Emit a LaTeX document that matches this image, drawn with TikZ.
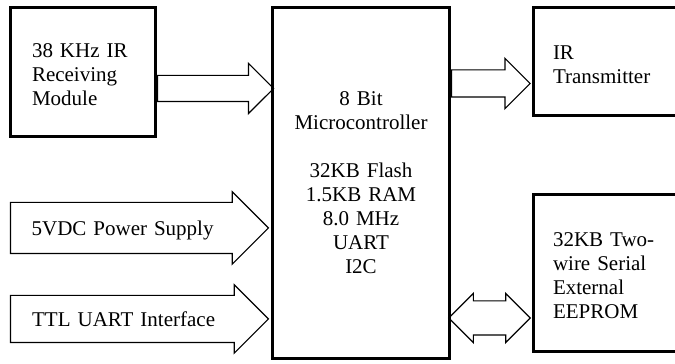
\documentclass[tikz,border=0pt]{standalone}
\usepackage{fontspec}
\setmainfont{Liberation Serif}
\usetikzlibrary{shapes.arrows}
\newcommand\padtop{\rule{0pt}{20pt}}
\begin{document}
\begin{tikzpicture}[
      x=1pt, y=1pt,
      unit/.style={
        rectangle, draw, line width=3.2pt, align=left,
        font=\fontsize{21}{24}\selectfont
      },
      core/.style={
        unit, align=center, text width=170pt
      },
      sidebox/.style={
        unit, minimum width=156.4pt, inner xsep=19.4pt, text width=117.6pt
      },
      pipe/.style={
        single arrow, draw, line width=1.2pt, inner xsep=0pt,
        single arrow tip angle=90, anchor=tail,
        font=\fontsize{21}{24}\selectfont
      },
      inlet/.style={
        pipe, minimum height=258pt, text width=222pt, align=center,
        text height=15pt, text depth=0pt, single arrow head extend=10.5pt,
        execute at end node={\hspace*{8pt}}
      },
      bus/.style={
        double arrow, draw, line width=1.2pt, inner xsep=0pt,
        double arrow tip angle=90
      }
    ]
    \clip (0,0) rectangle (675,364);

    % Blocks: receiver left, controller in the middle, two at the right edge.
    \node[unit, minimum width=144.8pt, minimum height=128.8pt,
          inner xsep=21.4pt, text width=102pt] (rx) at (83,292)
          {\padtop 38 KHz IR\\Receiving\\Module};
    \node[core, minimum width=174.8pt, minimum height=350.8pt] (mcu) at (361,181)
          {8 Bit\\Microcontroller\\[24pt]32KB Flash\\1.5KB RAM\\8.0 MHz\\UART\\I2C};
    \node[sidebox, minimum height=107.8pt] (tx)  at (611.8,302.5) {\padtop IR\\Transmitter};
    \node[sidebox, minimum height=156.8pt] (rom) at (611.8,91)
          {\padtop 32KB Two-\\wire Serial\\External\\EEPROM};

    % Hollow arrows between blocks.
    \node[pipe, minimum height=116pt, inner ysep=12.5pt,
          single arrow head extend=12pt] (rxlink) at ([yshift=-16.5pt]rx.east) {};
    \node[pipe, minimum height=78.6pt, inner ysep=13pt,
          single arrow head extend=11.5pt] (txlink) at ([yshift=99.5pt]mcu.east) {};
    \node[bus, minimum height=81.5pt, inner ysep=16.5pt,
          double arrow head extend=7.5pt] (romlink) at (489.5,46) {};

    % Inputs drawn as labelled arrows.
    \node[inlet, inner ysep=17.5pt] (pwr) at (9.8,136) {5VDC Power Supply};
    \node[inlet, inner ysep=15.5pt] (ttl) at (9.8,45)  {TTL UART Interface};
  \end{tikzpicture}
\end{document}
